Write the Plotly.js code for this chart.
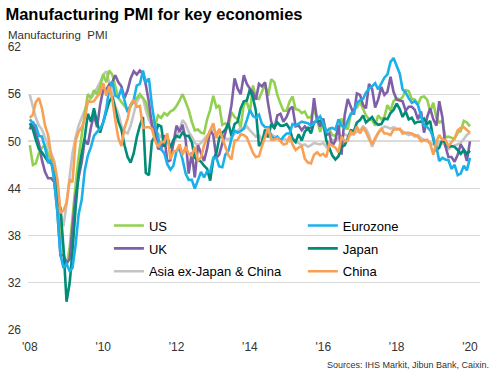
<!DOCTYPE html>
<html>
<head>
<meta charset="utf-8">
<script src="https://cdn.plot.ly/plotly-3.0.1.min.js"></script>
<style>html,body{margin:0;padding:0;background:#fff}#chart{width:496px;height:377px}</style>
</head>
<body>
<div id="chart"></div>
<script>
// ---- data (monthly, Jan 2008 - Jan 2020) ----
const startYear = 2008;
const seriesNames = ['US', 'Eurozone', 'UK', 'Japan', 'Asia ex-Japan & China', 'China'];

const us = [
  49.5, 47.0, 47.2, 48.5, 49.2, 49.5, 48.5, 47.5, 45.0, 41.5, 38.5, 36.0,
  34.0, 36.5, 40.5, 44.5, 48.0, 51.0, 53.5, 56.0, 55.5, 56.5, 56.0, 57.0,
  58.5, 57.5, 59.0, 58.5, 57.0, 55.5, 55.0, 54.5, 54.0, 54.5, 55.0, 55.5,
  56.0, 55.5, 55.0, 53.5, 52.5, 52.0, 53.3, 53.0, 53.6, 53.3, 53.8, 54.0,
  54.5, 55.2, 56.0, 55.0, 54.0, 52.5, 51.4, 51.5, 51.1, 51.0, 52.8, 54.0,
  55.8, 54.3, 54.6, 52.1, 52.3, 51.9, 53.7, 53.1, 52.8, 51.8, 54.7, 55.0,
  53.7, 57.1, 55.5, 55.4, 56.4, 57.3, 55.8, 57.9, 57.5, 55.9, 54.8, 53.9,
  53.9, 55.1, 55.7, 54.1, 54.0, 53.6, 53.8, 53.0, 53.1, 54.1, 52.8, 51.2,
  52.4, 51.3, 51.5, 50.8, 50.7, 51.3, 52.9, 52.0, 51.5, 53.4, 54.1, 54.3,
  55.0, 54.2, 53.3, 52.8, 52.7, 52.0, 53.3, 52.8, 53.1, 54.6, 53.9, 55.1,
  55.5, 55.3, 55.6, 56.5, 56.4, 55.4, 55.3, 54.7, 55.6, 55.7, 55.3, 53.8,
  54.9, 53.0, 52.4, 52.6, 50.5, 50.6, 50.4, 50.3, 51.1, 51.3, 52.6, 52.4,
  51.9
];
const eurozone = [
  52.8, 52.3, 52.0, 50.7, 50.6, 49.2, 47.4, 47.6, 45.0, 41.1, 35.6, 33.9,
  34.4, 33.5, 33.9, 36.8, 40.7, 42.6, 46.3, 48.2, 49.3, 50.7, 51.2, 51.6,
  52.4, 54.2, 56.6, 57.6, 55.8, 55.6, 56.7, 55.1, 53.7, 54.6, 55.3, 57.1,
  57.3, 59.0, 57.5, 58.0, 54.6, 52.0, 50.4, 49.0, 48.5, 47.1, 46.4, 46.9,
  48.8, 49.0, 47.7, 45.9, 45.1, 45.1, 44.0, 45.1, 46.1, 45.4, 46.2, 46.1,
  47.9, 47.9, 46.8, 46.7, 48.3, 48.8, 50.3, 51.4, 51.1, 51.3, 51.6, 52.7,
  54.0, 53.2, 53.0, 53.4, 52.2, 51.8, 51.8, 50.7, 50.3, 50.6, 50.1, 50.6,
  51.0, 51.0, 52.2, 52.0, 52.2, 52.5, 52.4, 52.3, 52.0, 52.3, 52.8, 53.2,
  52.3, 51.2, 51.6, 51.7, 51.5, 52.8, 52.0, 51.7, 52.6, 53.5, 53.7, 54.9,
  55.2, 55.4, 56.2, 56.7, 57.0, 57.4, 56.6, 57.4, 58.1, 58.5, 60.1, 60.6,
  59.6, 58.6, 56.6, 56.2, 55.5, 54.9, 55.1, 54.6, 53.2, 52.0, 51.8, 51.4,
  50.5, 49.3, 47.5, 47.9, 47.7, 47.6, 46.5, 47.0, 45.7, 45.9, 46.9, 46.3,
  47.9
];
const uk = [
  51.5, 52.5, 51.0, 49.7, 47.6, 46.1, 45.3, 45.3, 44.8, 41.2, 35.5, 35.5,
  34.5, 35.0, 39.1, 43.1, 45.4, 47.4, 50.2, 49.6, 51.8, 53.4, 51.8, 54.6,
  56.6, 56.6, 57.2, 57.5, 58.4, 57.5, 57.0, 55.5, 56.5, 58.0, 58.9, 58.5,
  59.0, 58.6, 57.2, 55.0, 52.0, 51.3, 49.1, 49.0, 50.8, 47.4, 47.6, 49.6,
  52.0, 51.2, 52.1, 50.2, 45.9, 48.6, 45.4, 49.5, 48.4, 47.5, 49.1, 51.4,
  50.8, 47.9, 48.3, 49.8, 51.3, 52.5, 54.6, 58.0, 56.7, 56.0, 58.4, 57.3,
  56.7, 56.2, 55.3, 57.3, 57.0, 57.5, 54.8, 52.5, 51.6, 53.3, 53.5, 52.5,
  53.1, 54.1, 54.4, 51.9, 52.0, 51.4, 51.9, 51.5, 51.8, 55.5, 52.7, 51.9,
  52.9, 50.8, 51.0, 49.4, 50.1, 52.1, 48.3, 53.3, 55.4, 54.3, 53.4, 56.1,
  55.9, 54.6, 54.2, 57.3, 56.7, 54.3, 55.3, 56.9, 55.9, 56.3, 58.2, 56.3,
  55.3, 55.2, 55.1, 53.9, 54.4, 54.4, 54.0, 52.8, 53.8, 51.1, 53.1, 54.2,
  52.8, 52.0, 55.1, 53.1, 49.4, 48.0, 48.0, 47.4, 48.3, 49.6, 48.9, 47.5,
  50.0
];
const japan = [
  52.3, 51.5, 50.2, 49.0, 48.6, 48.0, 47.4, 47.2, 46.5, 42.5, 41.5, 36.5,
  29.6, 32.0, 36.0, 41.5, 46.0, 48.5, 50.5, 53.5, 52.5, 54.2, 52.3, 51.1,
  52.5, 53.6, 55.0, 55.7, 54.0, 52.5, 51.5, 49.5, 48.0, 47.3, 48.5, 50.5,
  52.0, 53.1, 46.0, 45.7, 50.0, 50.7, 52.1, 51.9, 49.3, 50.6, 49.1, 50.2,
  50.7, 50.5, 51.1, 50.7, 50.7, 49.9, 47.9, 47.7, 47.4, 46.9, 46.5, 45.0,
  47.7, 48.5, 50.4, 51.1, 51.5, 52.3, 50.7, 52.2, 52.5, 54.2, 55.1, 55.2,
  56.6, 55.5, 53.9, 49.4, 49.9, 51.5, 50.5, 52.2, 51.7, 52.4, 52.0, 52.0,
  52.2, 51.6, 50.3, 49.9, 50.9, 50.1, 51.2, 51.7, 51.0, 52.4, 52.6, 52.6,
  52.3, 50.1, 49.1, 48.2, 47.7, 48.1, 49.3, 49.5, 50.4, 51.4, 51.3, 52.4,
  52.7, 53.3, 52.4, 52.7, 53.1, 52.4, 52.1, 52.2, 52.9, 52.8, 53.6, 54.0,
  54.8, 54.1, 53.1, 53.8, 52.8, 53.0, 52.3, 52.5, 52.5, 52.9, 52.2, 52.6,
  50.3, 48.9, 49.2, 50.2, 49.8, 49.3, 49.4, 49.3, 48.9, 48.4, 48.9, 48.4,
  48.8
];
const asiaExJapanChina = [
  55.9, 54.5, 53.0, 52.0, 51.5, 50.5, 49.5, 48.5, 47.5, 45.0, 41.0, 39.2,
  42.0, 45.5, 48.5, 50.5, 52.0, 53.0, 54.0, 55.0, 55.5, 56.0, 56.8, 57.5,
  58.5, 58.9, 57.5, 56.0, 54.5, 53.5, 52.0, 51.2, 51.0, 52.0, 53.5, 55.0,
  55.7, 55.5, 54.0, 52.7, 52.0, 51.4, 51.0, 50.5, 50.2, 50.0, 49.5, 49.7,
  50.5, 51.5, 52.7, 52.2, 51.2, 50.6, 49.8, 49.5, 49.8, 50.3, 50.8, 51.2,
  51.5, 51.0, 51.4, 50.8, 50.4, 50.2, 50.6, 51.0, 51.4, 51.7, 51.6, 51.9,
  51.4, 51.0, 50.6, 50.8, 50.2, 50.5, 51.0, 50.9, 50.6, 50.4, 50.2, 50.3,
  50.2, 50.0, 50.4, 50.0, 49.8, 49.5, 49.6, 49.3, 49.5, 49.8, 49.7, 49.6,
  49.8, 49.3, 50.0, 50.2, 50.1, 50.4, 50.6, 50.9, 50.7, 50.8, 51.0, 51.2,
  51.4, 51.9, 51.6, 50.8, 49.3, 50.2, 51.0, 51.5, 51.9, 51.8, 51.6, 51.8,
  51.6, 51.5, 51.3, 51.0, 50.8, 50.9, 50.6, 50.8, 50.4, 50.2, 50.0, 49.8,
  49.6, 49.4, 50.0, 49.8, 49.4, 49.0, 49.3, 49.5, 49.6, 49.8, 50.3, 50.8,
  51.1
];
const china = [
  53.0, 53.4, 55.0, 55.5, 54.2, 52.0, 50.8, 48.2, 47.1, 45.2, 40.9, 41.2,
  42.2, 45.1, 44.8, 50.1, 51.2, 51.8, 52.8, 55.1, 55.0, 55.1, 55.7, 56.1,
  57.4, 55.8, 57.0, 55.4, 52.7, 50.4, 49.4, 51.7, 52.9, 54.7, 55.3, 54.4,
  54.5, 51.7, 51.8, 51.8, 51.6, 50.1, 49.3, 49.9, 49.9, 51.0, 47.7, 48.7,
  48.8, 49.6, 48.3, 49.3, 48.4, 48.2, 49.3, 47.6, 47.9, 49.5, 50.5, 51.5,
  52.3, 50.4, 51.6, 50.4, 49.2, 48.2, 47.7, 50.1, 50.2, 50.9, 50.8, 50.5,
  49.5, 48.5, 48.0, 48.1, 49.4, 50.7, 51.7, 50.2, 50.2, 50.4, 50.0, 49.6,
  49.7, 50.7, 49.6, 48.9, 49.2, 49.4, 47.8, 47.3, 47.2, 48.3, 48.6, 48.2,
  48.4, 48.0, 49.7, 49.4, 49.2, 48.6, 50.6, 50.0, 50.1, 51.2, 50.9, 51.9,
  51.0, 51.7, 51.2, 50.3, 49.6, 50.4, 51.1, 51.6, 51.0, 51.0, 50.8, 51.5,
  51.5, 51.6, 51.0, 51.1, 51.1, 51.0, 50.8, 50.6, 50.0, 50.1, 50.2, 49.7,
  48.3, 49.9, 50.8, 50.2, 50.2, 49.4, 49.9, 50.4, 51.4, 51.7, 51.8, 51.5,
  51.1
];

const tickYears = ['2008', '2010', '2012', '2014', '2016', '2018', '2020'];
const tickLabels = ["'08", "'10", "'12", "'14", "'16", "'18", "'20"];
const yTicks = [26, 32, 38, 44, 50, 56, 62];
const threshold = 50;

// ---- build ----
const seriesValues = [us, eurozone, uk, japan, asiaExJapanChina, china];
const colors = ['#92d050', '#1cb0ea', '#7f5fa8', '#008c78', '#c4c4c4', '#f9a054'];
const legendOf = ['legend', 'legend2', 'legend', 'legend2', 'legend', 'legend2'];

const dates = us.map((_, i) => {
  const y = startYear + Math.floor(i / 12);
  const m = (i % 12) + 1;
  return y + '-' + (m < 10 ? '0' + m : m) + '-01';
});

// draw order: grey at back, then others
const drawOrder = [4, 0, 2, 3, 1, 5];
const traces = drawOrder.map(k => ({
  type: 'scatter', mode: 'lines',
  x: dates, y: seriesValues[k], name: seriesNames[k],
  line: {color: colors[k], width: 2.6},
  legend: legendOf[k], legendgroup: 'g' + k,
  legendrank: k + 1,
  hoverinfo: 'skip'
}));

const font = 'Liberation Sans, Arial, sans-serif';
const xRange = ['2007-12-14', '2020-04-10'];
const yMin = yTicks[0], yMax = yTicks[yTicks.length - 1];

const layout = {
  width: 496, height: 377,
  margin: {l: 28, r: 16, t: 47, b: 47, pad: 0},
  paper_bgcolor: '#fff', plot_bgcolor: '#fff',
  font: {family: font, color: '#333', size: 12},
  showlegend: true,
  title: {
    text: 'Manufacturing PMI for key economies',
    font: {family: font, size: 16.5, color: '#000', weight: 'bold'},
    xref: 'container', x: 0.011, xanchor: 'left',
    yref: 'container', y: 0.963, yanchor: 'middle'
  },
  xaxis: {
    type: 'date', range: xRange,
    tickvals: tickYears.map(y => y + '-01-01'), ticktext: tickLabels,
    showgrid: false, zeroline: false, showline: false, ticks: '',
    tickfont: {family: font, size: 12, color: '#333'},
    ticklabelstandoff: 8, fixedrange: true
  },
  xaxis2: {
    type: 'date', range: xRange, overlaying: 'x', anchor: 'free',
    position: (threshold - yMin) / (yMax - yMin), side: 'bottom',
    tickvals: tickYears.map(y => y + '-01-01'),
    showticklabels: false, ticks: 'outside', ticklen: 3, tickcolor: '#555', tickwidth: 1,
    showgrid: false, zeroline: false, showline: false
  },
  yaxis: {
    range: [yMin, yMax], tickvals: yTicks,
    showgrid: true, gridcolor: '#d9d9d9', gridwidth: 1,
    zeroline: false, showline: false, ticks: '',
    tickfont: {family: font, size: 12, color: '#333'},
    ticklabelstandoff: 6, fixedrange: true
  },
  shapes: [{
    type: 'line', layer: 'between', xref: 'paper', x0: 0, x1: 1,
    yref: 'y', y0: threshold, y1: threshold,
    line: {color: '#303030', width: 1}
  }],
  legend: {
    x: 0.179, xanchor: 'left', y: 0.422, yanchor: 'top',
    bgcolor: 'rgba(0,0,0,0)', borderwidth: 0, tracegroupgap: 3,
    font: {family: font, size: 13, color: '#000'}, itemwidth: 30
  },
  legend2: {
    x: 0.608, xanchor: 'left', y: 0.422, yanchor: 'top',
    bgcolor: 'rgba(0,0,0,0)', borderwidth: 0, tracegroupgap: 3,
    font: {family: font, size: 13, color: '#000'}, itemwidth: 30
  },
  annotations: [
    {text: 'Manufacturing&nbsp; PMI', xref: 'paper', yref: 'paper',
     x: -0.049, xanchor: 'left', y: 1.042, yanchor: 'middle', showarrow: false,
     font: {family: font, size: 11.5, color: '#333'}},
    {text: 'Sources: IHS Markit, Jibun Bank, Caixin.', xref: 'paper', yref: 'paper',
     x: 1.024, xanchor: 'right', y: -0.124, yanchor: 'middle', showarrow: false,
     font: {family: font, size: 9, color: '#333'}}
  ]
};

Plotly.newPlot('chart', traces, layout, {displayModeBar: false, staticPlot: true});
</script>
</body>
</html>
